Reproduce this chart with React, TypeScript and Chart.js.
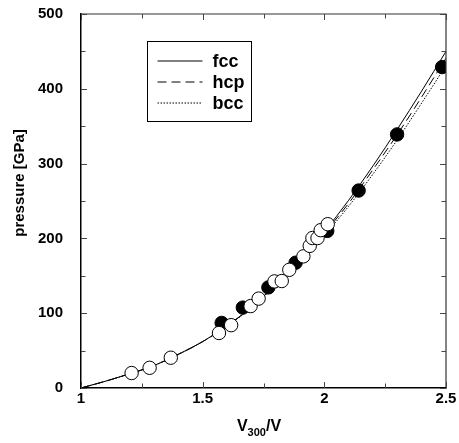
import React, { useEffect, useRef } from "react";
import { Chart, registerables } from "chart.js";

Chart.register(...registerables);

// ---- data ----
const curveX = [1.0, 1.1, 1.2, 1.3, 1.4, 1.5, 1.6, 1.7, 1.8, 1.9, 2.0, 2.1, 2.2, 2.3, 2.4, 2.5];
const fccP = [0, 9, 19, 30, 45, 62, 83, 108, 138, 171, 209, 251, 297, 346, 397, 450];
const hcpP = [0, 9, 19, 30, 45, 62, 83, 108, 138, 170, 207, 247, 292, 339, 389, 441];
const bccP = [0, 9, 19, 30, 45, 62, 83, 107, 137, 168, 204, 243, 286, 332, 381, 431];

const openX = [1.208, 1.282, 1.369, 1.567, 1.617, 1.697, 1.73, 1.795, 1.825, 1.856, 1.914, 1.94, 1.951, 1.972, 1.985, 2.014];
const openP = [20, 27, 40.5, 73.5, 84, 109.5, 119.5, 142.5, 143, 158, 176, 190, 200.5, 200.5, 211, 219];

const filledX = [1.578, 1.665, 1.77, 1.882, 2.012, 2.141, 2.299, 2.484];
const filledP = [87, 107.5, 134.5, 167.5, 210, 264, 339, 429];

const xMajor = [1, 1.5, 2, 2.5];
const xMinor = [1.25, 1.75, 2.25];
const yMajor = [0, 100, 200, 300, 400, 500];
const yMinor = [50, 150, 250, 350, 450];

const legendLabels = ["fcc", "hcp", "bcc"];
const legendDashes = [[], [9, 5], [1.5, 1.5]];
const xTitleParts = ["V", "300", "/V"];
const yTitle = "pressure [GPa]";

const FONT = "'Liberation Sans', Arial, Helvetica, sans-serif";

const pts = (xs: number[], ys: number[]) => xs.map((x, i) => ({ x, y: ys[i] }));

const framePlugin = {
  id: "frame",
  afterDatasetsDraw(chart: any) {
    const { ctx, chartArea: a, scales } = chart;
    const xs = scales.x;
    const ys = scales.y;
    ctx.save();
    ctx.strokeStyle = "#333";
    ctx.lineWidth = 1.2;
    ctx.beginPath();
    ctx.moveTo(a.left, a.top);
    ctx.lineTo(a.right, a.top);
    ctx.lineTo(a.right, a.bottom);
    ctx.stroke();
    ctx.strokeStyle = "#444";
    ctx.lineWidth = 1;
    const xt = (vals: number[], len: number) => {
      vals.forEach((v) => {
        const p = Math.round(xs.getPixelForValue(v)) + 0.5;
        ctx.beginPath();
        ctx.moveTo(p, a.bottom);
        ctx.lineTo(p, a.bottom - len);
        ctx.moveTo(p, a.top);
        ctx.lineTo(p, a.top + len);
        ctx.stroke();
      });
    };
    const yt = (vals: number[], len: number) => {
      vals.forEach((v) => {
        const p = Math.round(ys.getPixelForValue(v)) + 0.5;
        ctx.beginPath();
        ctx.moveTo(a.left, p);
        ctx.lineTo(a.left + len, p);
        ctx.moveTo(a.right, p);
        ctx.lineTo(a.right - len, p);
        ctx.stroke();
      });
    };
    xt(xMajor, 6);
    xt(xMinor, 4.5);
    yt(yMajor, 6);
    yt(yMinor, 4.5);
    ctx.restore();
  },
  afterDraw(chart: any) {
    const { ctx, chartArea: a } = chart;
    ctx.save();
    // legend box
    const bx = a.left + 66.5, by = a.top + 27.5, bw = 104, bh = 80;
    ctx.fillStyle = "#fff";
    ctx.fillRect(bx, by, bw, bh);
    ctx.strokeStyle = "#000";
    ctx.lineWidth = 1;
    ctx.strokeRect(bx, by, bw, bh);
    ctx.font = `bold 18px ${FONT}`;
    ctx.fillStyle = "#000";
    ctx.textBaseline = "middle";
    ctx.textAlign = "left";
    legendLabels.forEach((lab, i) => {
      const y = by + 19.5 + i * 21;
      ctx.setLineDash(legendDashes[i]);
      ctx.beginPath();
      ctx.moveTo(bx + 10, y);
      ctx.lineTo(bx + 55, y);
      ctx.stroke();
      ctx.setLineDash([]);
      ctx.fillText(lab, bx + 65, y + 1);
    });
    // x title with subscript
    const cx = 259;
    const base = 431;
    ctx.textBaseline = "alphabetic";
    const fMain = `bold 16px ${FONT}`;
    const fSub = `bold 11px ${FONT}`;
    ctx.font = fMain;
    const w0 = ctx.measureText(xTitleParts[0]).width;
    const w2 = ctx.measureText(xTitleParts[2]).width;
    ctx.font = fSub;
    const w1 = ctx.measureText(xTitleParts[1]).width;
    let x = cx - (w0 + w1 + w2) / 2;
    ctx.font = fMain;
    ctx.fillText(xTitleParts[0], x, base);
    x += w0;
    ctx.font = fSub;
    ctx.fillText(xTitleParts[1], x, base + 5);
    x += w1;
    ctx.font = fMain;
    ctx.fillText(xTitleParts[2], x, base);
    // y title
    ctx.translate(24, 183);
    ctx.rotate(-Math.PI / 2);
    ctx.textAlign = "center";
    ctx.textBaseline = "alphabetic";
    ctx.font = `bold 15px ${FONT}`;
    ctx.fillText(yTitle, 0, 0);
    ctx.restore();
  },
};

export default function App() {
  const ref = useRef<HTMLCanvasElement | null>(null);
  useEffect(() => {
    if (!ref.current) return;
    const lineDs = (label: string, data: number[], dash: number[]) => ({
      type: "line" as const,
      label,
      data: pts(curveX, data),
      borderColor: "#000",
      borderWidth: 1,
      borderDash: dash,
      pointRadius: 0,
      cubicInterpolationMode: "monotone" as const,
      fill: false,
    });
    const chart = new Chart(ref.current, {
      type: "scatter",
      data: {
        datasets: [
          {
            label: "open",
            data: pts(openX, openP),
            backgroundColor: "#fff",
            borderColor: "#000",
            borderWidth: 1,
            pointRadius: 6.7,
          },
          {
            label: "filled",
            data: pts(filledX, filledP),
            backgroundColor: "#000",
            borderColor: "#000",
            borderWidth: 1,
            pointRadius: 6.7,
          },
          lineDs("fcc", fccP, []),
          lineDs("hcp", hcpP, [9, 5]),
          lineDs("bcc", bccP, [1.5, 1.5]),
        ] as any,
      },
      options: {
        responsive: false,
        animation: false,
        devicePixelRatio: 1,
        layout: { padding: { top: 14, right: 13, left: 0, bottom: 0 } },
        plugins: { legend: { display: false }, tooltip: { enabled: false } },
        scales: {
          x: {
            type: "linear",
            min: 1,
            max: 2.5,
            grid: { display: false, drawTicks: false },
            border: { display: true, color: "#000", width: 1.5 },
            ticks: {
              stepSize: 0.5,
              autoSkip: false,
              maxRotation: 0,
              padding: 2,
              color: "#000",
              font: { family: FONT, size: 15, weight: "bold" },
              callback: (v: any) => String(Number(v)),
            },
            afterFit: (s: any) => {
              s.height = 55;
              s.paddingLeft = 0;
              s.paddingRight = 0;
            },
          },
          y: {
            type: "linear",
            min: 0,
            max: 500,
            grid: { display: false, drawTicks: false },
            border: { display: true, color: "#000", width: 1.5 },
            ticks: {
              stepSize: 100,
              autoSkip: false,
              padding: 18,
              color: "#000",
              font: { family: FONT, size: 15, weight: "bold" },
              callback: (v: any) => String(Number(v)),
            },
            afterFit: (s: any) => {
              s.width = 81;
              s.paddingTop = 0;
              s.paddingBottom = 0;
            },
          },
        },
      },
      plugins: [framePlugin],
    });
    return () => chart.destroy();
  }, []);
  return (
    <div style={{ position: "fixed", left: 0, top: 0, width: 459, height: 443, background: "#fff" }}>
      <canvas ref={ref} width={459} height={443} />
    </div>
  );
}
